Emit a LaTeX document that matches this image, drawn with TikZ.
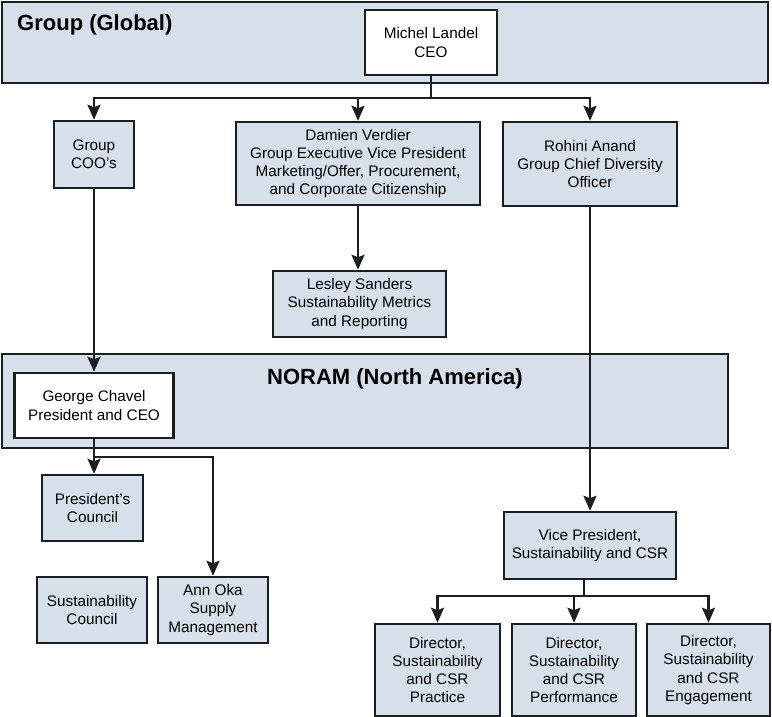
\documentclass[tikz,border=0pt]{standalone}
\usepackage{fontspec}
\setmainfont{Liberation Sans}
\usetikzlibrary{arrows.meta}
\definecolor{boxfill}{RGB}{214,223,234}
\definecolor{edgecol}{RGB}{26,30,32}
\tikzset{
  box/.style={draw=edgecol, line width=2.5pt, fill=boxfill, inner sep=0pt, align=center,
    font=\fontsize{15.3}{18.3}\selectfont, text=black},
  whitebox/.style={box, fill=white},
  band/.style={draw=edgecol, line width=2.5pt, fill=boxfill, inner sep=0pt},
  conn/.style={draw=edgecol, line width=2.4pt},
  arr/.style={conn, -{Stealth[length=15pt,width=13pt,inset=2.5pt]}},
  title/.style={font=\fontsize{22}{26}\selectfont\bfseries, text=black, inner sep=0pt},
}
\begin{document}
\begin{tikzpicture}[x=1pt,y=-1pt]
\useasboundingbox (0,0) rectangle (772,717);
% bands
\node[band, minimum width=766pt, minimum height=81pt] (global) at (385,42.5) {};
\node[band, minimum width=726pt, minimum height=94pt] (noram) at (365,401) {};
\node[title, anchor=west] (globaltitle) at (17,25) {Group (Global)};
\node[title, anchor=west] (noramtitle) at (267,378.5) {NORAM (North America)};
% boxes
\node[whitebox, minimum width=132pt, minimum height=65pt] (ceo) at (431,42.5) {Michel Landel\\CEO};
\node[box, minimum width=80pt, minimum height=67pt] (coo) at (94,154.5) {Group\\COO’s};
\node[box, minimum width=244pt, minimum height=83pt] (damien) at (358,163.5) {Damien Verdier\\Group Executive Vice President\\Marketing/Offer, Procurement,\\and Corporate Citizenship};
\node[box, minimum width=173pt, minimum height=66pt] (lesley) at (359.5,304) {Lesley Sanders\\Sustainability Metrics\\and Reporting};
\node[box, minimum width=174pt, minimum height=84pt] (rohini) at (590,164) {Rohini Anand\\Group Chief Diversity\\Officer};
\node[whitebox, minimum width=159pt, minimum height=65pt] (george) at (94,405.5) {George Chavel\\President and CEO};
\node[box, minimum width=101pt, minimum height=66pt] (pcouncil) at (92.5,508) {President’s\\Council};
\node[box, minimum width=110pt, minimum height=66pt] (scouncil) at (92,610) {Sustainability\\Council};
\node[box, minimum width=110pt, minimum height=66pt] (annoka) at (213,610) {Ann Oka\\Supply\\Management};
\node[box, minimum width=172pt, minimum height=67pt] (vp) at (590,545.5) {Vice President,\\Sustainability and CSR};
\node[box, minimum width=125pt, minimum height=92pt] (d1) at (437.5,670) {Director,\\Sustainability\\and CSR\\Practice};
\node[box, minimum width=124pt, minimum height=92pt] (d2) at (574,670) {Director,\\Sustainability\\and CSR\\Performance};
\node[box, minimum width=123pt, minimum height=92pt] (d3) at (708.5,670) {Director,\\Sustainability\\and CSR\\Engagement};
% connectors
\coordinate (j1) at (431,98);
\draw[conn] (ceo.south) -- (j1);
\draw[arr] (j1) -| (coo.north);
\draw[arr] (j1) -| (rohini.north);
\draw[arr] (damien.north |- j1) -- (damien.north);
\draw[arr] (coo.south) -- (coo.south |- george.north);
\draw[arr] (damien.south) -- (damien.south |- lesley.north);
\draw[arr] (rohini.south) -- (rohini.south |- vp.north);
\coordinate (j2) at (94,457);
\draw[arr] (george.south) -- (george.south |- pcouncil.north);
\draw[arr] (j2) -| (annoka.north);
\coordinate (j3) at (584,596);
\draw[conn] (vp.south -| j3) -- (j3);
\draw[arr] (j3) -| (d1.north);
\draw[arr] (j3) -| (d3.north);
\draw[arr] (d2.north |- j3) -- (d2.north);
\end{tikzpicture}
\end{document}
